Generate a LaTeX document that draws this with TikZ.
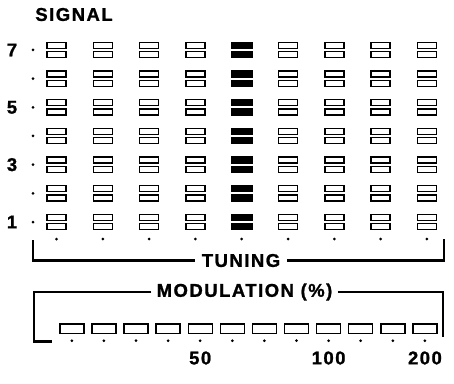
\documentclass[tikz,border=0pt]{standalone}
\usepackage{fontspec}
\newfontfamily\panelfont[LetterSpace=8, BoldFeatures={FakeBold=1.2}]{Liberation Sans}
\begin{document}
\begin{tikzpicture}[x=1pt, y=-1pt,
    lamp/.style={draw, line width=1.4pt, minimum width=19pt, minimum height=6pt, inner sep=0pt},
    lampon/.style={lamp, fill=black, minimum width=21pt},
    modlamp/.style={draw, line width=1.4pt, minimum width=24pt, minimum height=9.6pt, inner sep=0pt},
    pip/.style={circle, fill=black, inner sep=0pt, minimum size=3pt},
    lbl/.style={font=\panelfont\bfseries\fontsize{18.5}{18.5}\selectfont, inner sep=0pt},
    frame/.style={line width=2.6pt}]
    \useasboundingbox (0,0) rectangle (454,383);

    % 1. signal lamps
    \node[lbl] (sig) at (74,14.5) {SIGNAL};
    \foreach \r in {1,...,7}{
        \pgfmathsetmacro{\ry}{222-(\r-1)*28.67}
        \node[pip] (rd\r) at (33,\ry) {};
        \foreach \c in {1,...,9}{
            \pgfmathsetmacro{\cx}{56.5+(\c-1)*46.3}
            \ifnum\c=5 \def\st{lampon}\else\def\st{lamp}\fi
            \node[\st] (u\c-\r) at (\cx,\ry-4.7) {};
            \node[\st] (l\c-\r) at (\cx,\ry+4.7) {};
        }
    }
    \foreach \r in {1,3,5,7}
        \node[lbl] (rn\r) at (12,{222-(\r-1)*28.67}) {\r};
    \foreach \c in {1,...,9}
        \node[pip] (cd\c) at ({56.5+(\c-1)*46.3},239) {};

    % 2. tuning bracket
    \coordinate (tl) at (33,240);
    \coordinate (tr) at (444,239);
    \node[lbl, inner xsep=7pt] (tun) at (241,260.5) {TUNING};
    \draw[frame] (tl) |- (tun.west);
    \draw[frame] (tr) |- (tun.east);

    % 3. modulation bracket
    \coordinate (mbl) at (34,341.5);
    \coordinate (mfoot) at (52,341.5);
    \coordinate (mbr) at (443,337);
    \node[lbl, inner xsep=5pt] (mod) at (244.5,292) {MODULATION (\%)};
    \draw[frame] (mod.west) -| (mbl) -- (mfoot);
    \draw[frame] (mod.east) -| (mbr);

    % 4. modulation lamps and scale
    \foreach \i in {1,...,12}{
        \pgfmathsetmacro{\mx}{71.8+(\i-1)*32.1}
        \node[modlamp] (m\i) at (\mx,328.7) {};
        \node[pip] (md\i) at (\mx,340.7) {};
    }
    \foreach \i/\t in {5/50, 9/100, 12/200}
        \node[lbl] (v\t) at (m\i |- 0,358) {\t};
\end{tikzpicture}
\end{document}
